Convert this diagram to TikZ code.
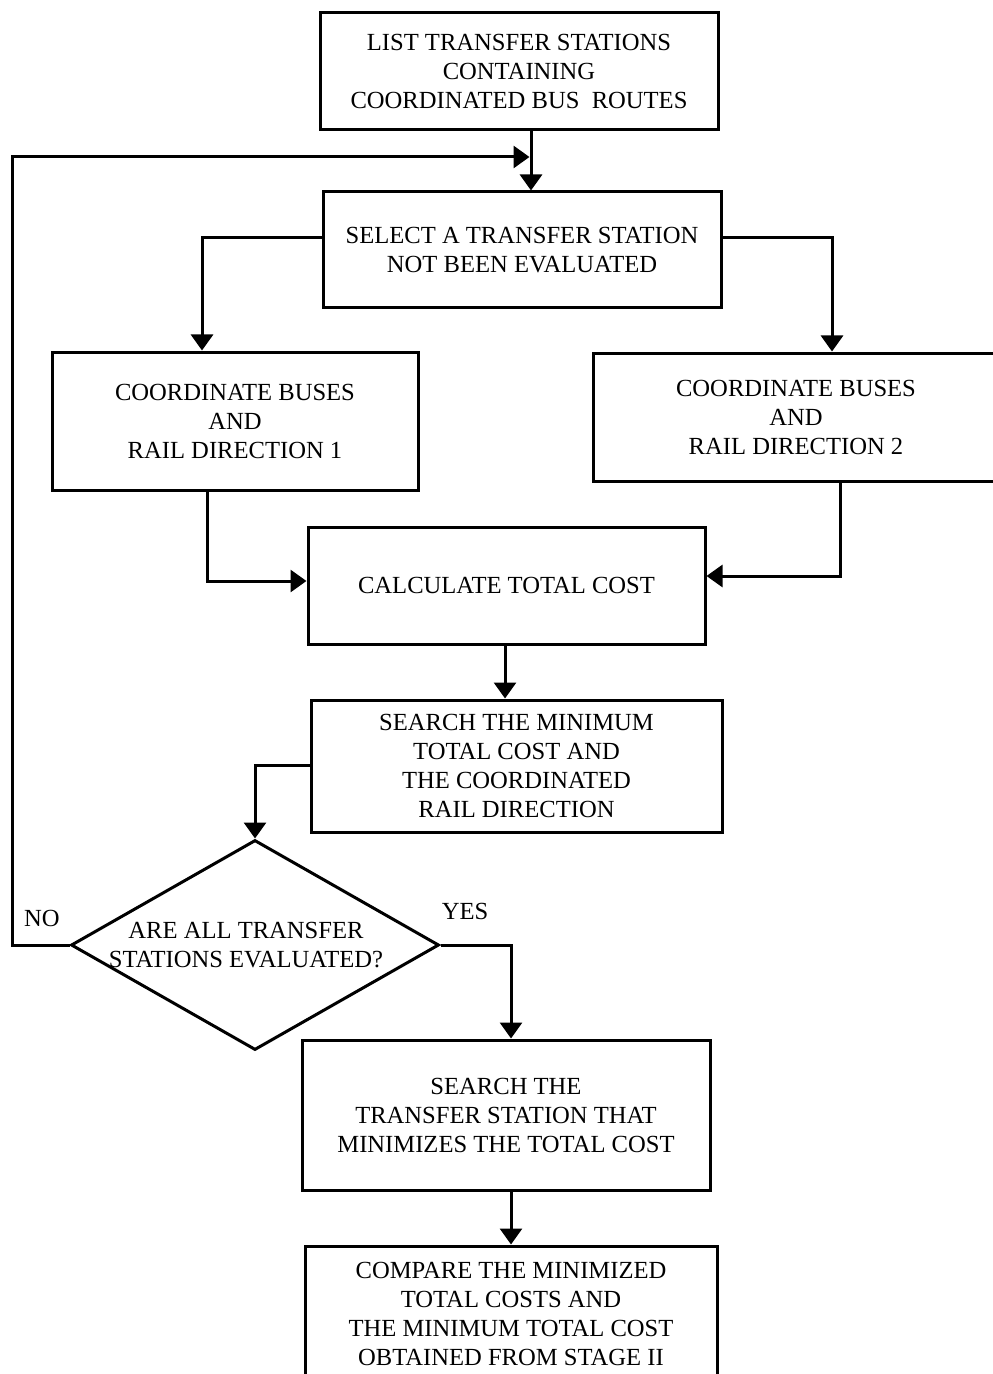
\documentclass[tikz,border=0pt]{standalone}
\usepackage{fontspec}
\setmainfont{Liberation Serif}
\usetikzlibrary{arrows.meta,shapes.geometric}
\begin{document}
\begin{tikzpicture}[x=0.5pt,y=-0.5pt,
  box/.style={draw,line width=1.5pt,inner sep=0pt,align=center,
    font=\fontsize{12.3}{14.5}\selectfont},
  lbl/.style={inner sep=0pt,font=\fontsize{12.3}{14.5}\selectfont},
  arr/.style={line width=1.5pt,-{Triangle[length=8pt,width=11pt]}},
  conn/.style={line width=1.5pt}]
\useasboundingbox (0,0) rectangle (992,1374);

% process boxes
\node[box,minimum width=199pt,minimum height=58.5pt] (b1) at (519,71.5)
  {LIST TRANSFER STATIONS\\CONTAINING\\COORDINATED BUS\ \ ROUTES};
\node[box,minimum width=199pt,minimum height=58pt] (b2) at (522,250)
  {SELECT A TRANSFER STATION\\NOT BEEN EVALUATED};
\node[box,minimum width=183pt,minimum height=69pt] (b3) at (235,421)
  {COORDINATE BUSES\\AND\\RAIL DIRECTION 1};
\node[box,minimum width=203pt,minimum height=64pt] (b4) at (796,417)
  {COORDINATE BUSES\\AND\\RAIL DIRECTION 2};
\node[box,minimum width=198.5pt,minimum height=58.5pt] (b5) at (506.5,585.5)
  {CALCULATE TOTAL COST};
\node[box,minimum width=205.5pt,minimum height=66pt] (b6) at (516.5,766)
  {SEARCH THE MINIMUM\\TOTAL COST AND\\THE COORDINATED\\RAIL DIRECTION};
\node[draw,line width=1.5pt,diamond,inner sep=0pt,minimum width=184pt,
  minimum height=105pt] (dia) at (255,945) {};
\node[lbl,align=center] (dt) at (246,945)
  {ARE ALL TRANSFER\\STATIONS EVALUATED?};
\node[box,minimum width=204pt,minimum height=75pt] (b7) at (506,1115)
  {SEARCH THE\\TRANSFER STATION THAT\\MINIMIZES THE TOTAL COST};
\node[box,minimum width=206pt,minimum height=68pt] (b8) at (511,1314)
  {COMPARE THE MINIMIZED\\TOTAL COSTS AND\\THE MINIMUM TOTAL COST\\OBTAINED FROM STAGE II};

% branch labels
\node[lbl] (no) at (42,918) {NO};
\node[lbl] (yes) at (465,911) {YES};

% routing points
\coordinate (j) at (531,157);
\coordinate (lp) at (12,157);
\coordinate (sl) at (202,238);
\coordinate (sr) at (832,238);
\coordinate (ml) at (207,581);
\coordinate (mr) at (840,576);
\coordinate (c1) at (505,670);
\coordinate (dl) at (258,765);
\coordinate (dy) at (511,944);

% connectors
\draw[arr] (j |- b1.south) -- (j |- b2.north);
\draw[arr] (dia.west) -| (lp) -- ([xshift=-0.75pt]j);
\draw[arr] (b2.west |- sl) -| (b3.north -| sl);
\draw[arr] (b2.east |- sr) -| (b4.north -| sr);
\draw[arr] (b3.south -| ml) |- (b5.west |- ml);
\draw[arr] (b4.south -| mr) |- (b5.east |- mr);
\draw[arr] (b5.south -| c1) -- (b6.north -| c1);
\draw[arr] (b6.west |- dl) -| (dia.north);
\draw[arr] (dia.east) -| (b7.north -| dy);
\draw[arr] (b7.south -| dy) -- (b8.north -| dy);
\end{tikzpicture}
\end{document}
